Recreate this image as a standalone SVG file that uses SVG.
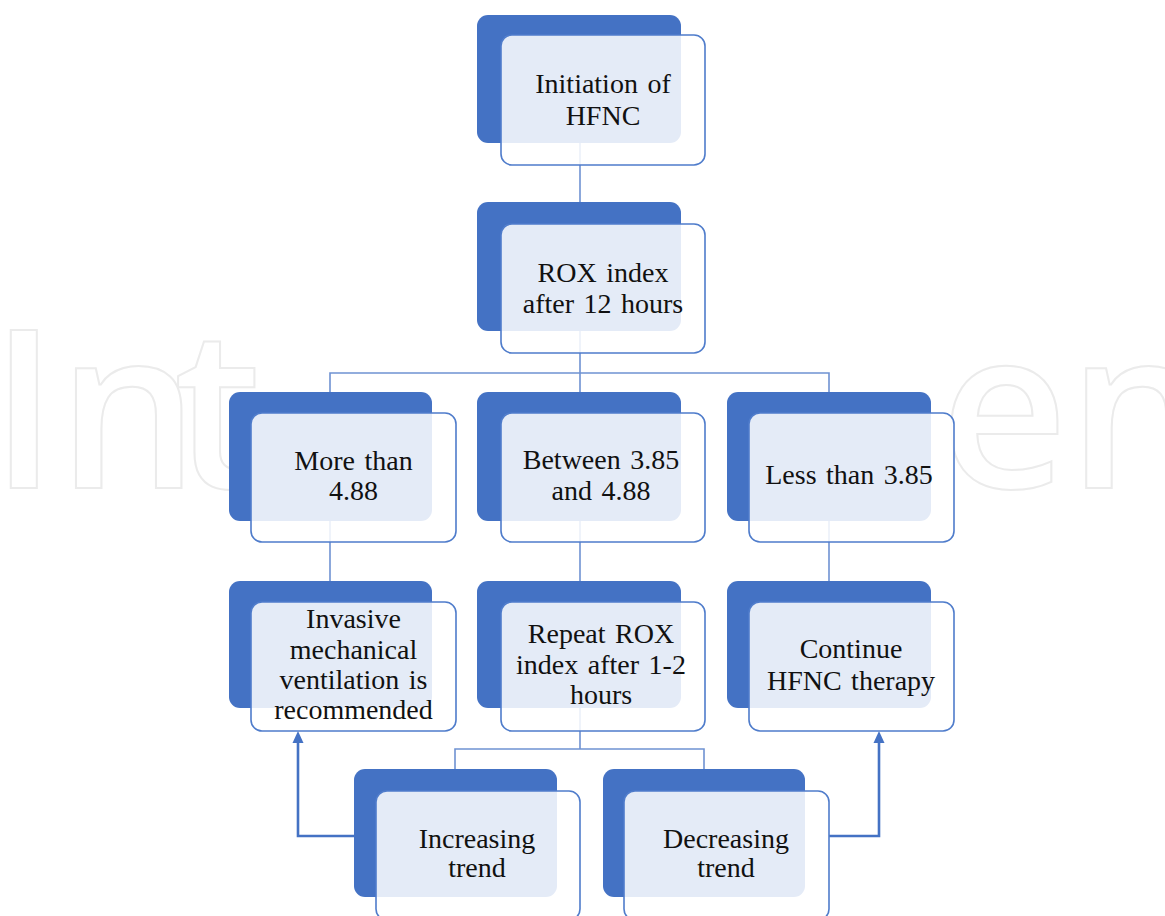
<svg xmlns="http://www.w3.org/2000/svg" width="1165" height="916" viewBox="0 0 1165 916">
<style>
.wm{font-family:"Open Sans",sans-serif;font-weight:600;font-size:222px;fill:none;stroke:#ebebeb;stroke-width:2}
.dk{fill:#4472C4}
.fr{fill:#ffffff;fill-opacity:0.86;stroke:#4F7CCB;stroke-width:1.6}
.t{font-family:"Liberation Serif","Times New Roman",serif;font-size:28px;fill:#111;text-anchor:middle;word-spacing:2.5px}
.cn{fill:none;stroke:#6F92D2;stroke-width:1.6}
.ar{fill:none;stroke:#4472C4;stroke-width:2.6}
.ah{fill:#4472C4}
</style>
<rect width="1165" height="916" fill="#ffffff"/>
<g id="watermark">
<text class="wm" x="-10" y="488">In<tspan dx="-25">t</tspan></text>
<text class="wm" x="940" y="488">en</text>
</g>
<g id="connectors">
<path class="cn" d="M580,143 V202"/>
<path class="cn" d="M580,331 V392 M330,392 V373 H829 V392"/>
<path class="cn" d="M330,521 V581"/>
<path class="cn" d="M580,521 V581"/>
<path class="cn" d="M829,521 V581"/>
<path class="cn" d="M580,708 V749 M455,769 V749 H704 V769"/>
<path class="ar" d="M354,836 H298 V741"/>
<path class="ah" d="M298,731 L303.5,743 L292.5,743 Z"/>
<path class="ar" d="M829,836 H879 V741"/>
<path class="ah" d="M879,731 L884.5,743 L873.5,743 Z"/>
</g>
<g id="n1">
<rect class="dk" x="477" y="15" width="204" height="128" rx="11"/>
<rect class="fr" x="501" y="35" width="204" height="130" rx="11"/>
<text class="t" x="603" y="93">Initiation of</text>
<text class="t" x="603" y="125">HFNC</text>
</g>
<g id="n2">
<rect class="dk" x="477" y="202" width="204" height="129" rx="11"/>
<rect class="fr" x="501" y="224" width="204" height="129" rx="11"/>
<text class="t" x="603" y="282">ROX index</text>
<text class="t" x="603" y="313">after 12 hours</text>
</g>
<g id="n3l">
<rect class="dk" x="229" y="392" width="203" height="129" rx="11"/>
<rect class="fr" x="251" y="413" width="205" height="129" rx="11"/>
<text class="t" x="353.5" y="470">More than</text>
<text class="t" x="353.5" y="500">4.88</text>
</g>
<g id="n3m">
<rect class="dk" x="477" y="392" width="204" height="129" rx="11"/>
<rect class="fr" x="501" y="413" width="204" height="129" rx="11"/>
<text class="t" x="601" y="469">Between 3.85</text>
<text class="t" x="601" y="500">and 4.88</text>
</g>
<g id="n3r">
<rect class="dk" x="727" y="392" width="204" height="129" rx="11"/>
<rect class="fr" x="749" y="413" width="205" height="129" rx="11"/>
<text class="t" x="849" y="484">Less than 3.85</text>
</g>
<g id="n4l">
<rect class="dk" x="229" y="581" width="203" height="127" rx="11"/>
<rect class="fr" x="251" y="602" width="205" height="129" rx="11"/>
<text class="t" x="353.5" y="628">Invasive</text>
<text class="t" x="353.5" y="659">mechanical</text>
<text class="t" x="353.5" y="689">ventilation is</text>
<text class="t" x="353.5" y="719">recommended</text>
</g>
<g id="n4m">
<rect class="dk" x="477" y="581" width="204" height="127" rx="11"/>
<rect class="fr" x="501" y="602" width="204" height="129" rx="11"/>
<text class="t" x="601" y="643">Repeat ROX</text>
<text class="t" x="601" y="674">index after 1-2</text>
<text class="t" x="601" y="704">hours</text>
</g>
<g id="n4r">
<rect class="dk" x="727" y="581" width="204" height="127" rx="11"/>
<rect class="fr" x="749" y="602" width="205" height="129" rx="11"/>
<text class="t" x="851" y="658">Continue</text>
<text class="t" x="851" y="690">HFNC therapy</text>
</g>
<g id="n5l">
<rect class="dk" x="354" y="769" width="203" height="128" rx="11"/>
<rect class="fr" x="376" y="791" width="204" height="129" rx="11"/>
<text class="t" x="477" y="848">Increasing</text>
<text class="t" x="477" y="877">trend</text>
</g>
<g id="n5r">
<rect class="dk" x="603" y="769" width="202" height="128" rx="11"/>
<rect class="fr" x="624" y="791" width="205" height="129" rx="11"/>
<text class="t" x="726" y="848">Decreasing</text>
<text class="t" x="726" y="877">trend</text>
</g>
</svg>
